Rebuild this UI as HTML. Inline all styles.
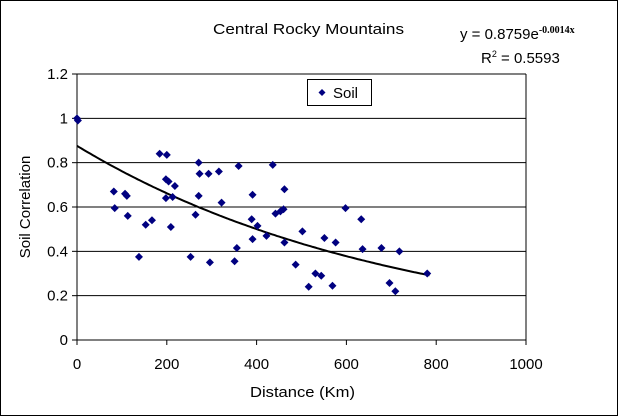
<!DOCTYPE html>
<html><head><meta charset="utf-8"><style>
html,body{margin:0;padding:0;background:#fff}
svg{display:block;font-family:"Liberation Sans",Arial,sans-serif}
</style></head><body>
<svg width="619" height="417" viewBox="0 0 619 417">
<rect x="0.5" y="0.5" width="617" height="415" fill="#fff" stroke="#000" stroke-width="1"/>
<text x="213" y="34" font-size="15" textLength="191" lengthAdjust="spacingAndGlyphs">Central Rocky Mountains</text>
<text x="460" y="39" font-size="15">y = 0.8759e<tspan font-size="10" dy="-6" font-weight="bold" font-family="Liberation Serif,serif">-0.0014x</tspan></text>
<text x="481" y="63" font-size="15">R<tspan font-size="9" dy="-6">2</tspan><tspan dy="6"> = 0.5593</tspan></text>
<g id="plot"></g>
<g>
<rect x="307.5" y="79.5" width="64" height="26" fill="#fff" stroke="#000"/>
<path d="M322,89 L325.5,92.5 L322,96 L318.5,92.5Z" fill="#000080"/>
<text x="333" y="98" font-size="15">Soil</text>
</g>
<text x="250" y="397" font-size="15" textLength="105" lengthAdjust="spacingAndGlyphs">Distance (Km)</text>
<text x="0" y="0" font-size="15" text-anchor="middle" transform="translate(30,207) rotate(-90)">Soil Correlation</text>
</svg>
<script>
const xTicks=[0,200,400,600,800,1000];
const yTicks=[0,0.2,0.4,0.6,0.8,1,1.2];
const yTickLabels=["0","0.2","0.4","0.6","0.8","1","1.2"];
const distances=[0,2,82,84,107,111,113,138,153,167,184,200,198,204,198,213,218,209,253,264,271,273,271,293,316,322,296,360,356,351,389,391,391,402,422,436,442,453,460,462,462,487,502,516,531,544,551,576,569,598,633,636,678,696,709,718,780];
const correlations=[1.0,0.99,0.67,0.595,0.66,0.65,0.56,0.375,0.52,0.54,0.84,0.835,0.725,0.715,0.64,0.645,0.695,0.51,0.375,0.565,0.80,0.75,0.65,0.75,0.76,0.62,0.35,0.785,0.415,0.355,0.545,0.655,0.455,0.515,0.47,0.79,0.57,0.58,0.59,0.68,0.44,0.34,0.49,0.24,0.30,0.29,0.46,0.44,0.245,0.595,0.545,0.41,0.415,0.257,0.22,0.40,0.30];
const trendA=0.8759, trendK=-0.0014, trendMax=785;
const NS="http://www.w3.org/2000/svg";
const L=77,R=526,T=74,B=340;
const xs=v=>L+(v/1000)*(R-L);
const ys=v=>B-(v/1.2)*(B-T);
const g=document.getElementById('plot');
function mk(tag,attrs){const e=document.createElementNS(NS,tag);for(const k in attrs)e.setAttribute(k,attrs[k]);g.appendChild(e);return e;}
yTicks.forEach((t,i)=>{
  if(t>0){const gl=mk('line',{x1:L,x2:R,y1:ys(t),y2:ys(t),stroke:'#000','stroke-width':1});
  
  }
  const tk=mk('line',{x1:L-5,x2:L,y1:ys(t),y2:ys(t),stroke:'#000'});
  
  
  const tx=mk('text',{x:L-9,y:ys(t)+5,'font-size':15,'text-anchor':'end'});
  tx.textContent=yTickLabels[i];
  
  
});
xTicks.forEach(t=>{
  const tk=mk('line',{x1:xs(t),x2:xs(t),y1:B,y2:B+5,stroke:'#000'});
  
  
  const tx=mk('text',{x:xs(t),y:369,'font-size':15,'text-anchor':'middle'});
  tx.textContent=String(t);
  
  
});
const rb=mk('line',{x1:R,x2:R,y1:T,y2:B,stroke:'#000'});


const ya=mk('line',{x1:L,x2:L,y1:T,y2:B,stroke:'#000'});


const xa=mk('line',{x1:L,x2:R,y1:B,y2:B,stroke:'#000'});


let d='';
for(let x=0;x<=trendMax;x+=5){d+=(x?'L':'M')+xs(x).toFixed(1)+','+ys(trendA*Math.exp(trendK*x)).toFixed(1);}
const tl=mk('path',{d:d,fill:'none',stroke:'#000','stroke-width':2});


distances.forEach((dv,i)=>{
  const cx=xs(dv),cy=ys(correlations[i]);
  const p=mk('path',{d:`M${cx},${cy-4}L${cx+4},${cy}L${cx},${cy+4}L${cx-4},${cy}Z`,fill:'#000080'});
  
  
});
</script>
</body></html>
